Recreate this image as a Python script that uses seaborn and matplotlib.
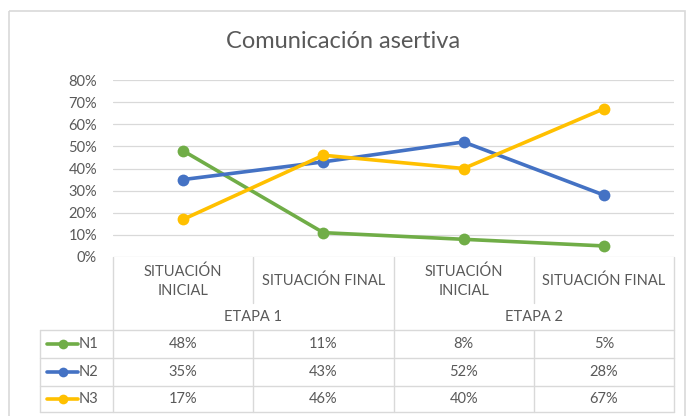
import numpy as np
import pandas as pd
import matplotlib

matplotlib.use("Agg")
import matplotlib.pyplot as plt
import seaborn as sns
from matplotlib.lines import Line2D
from matplotlib.patches import Rectangle

# ----------------------------------------------------------------------
# Data
# ----------------------------------------------------------------------
TITLE = "Comunicación asertiva"
categories = ["SITUACIÓN\nINICIAL", "SITUACIÓN FINAL", "SITUACIÓN\nINICIAL", "SITUACIÓN FINAL"]
stages = ["ETAPA 1", "ETAPA 2"]
series = ["N1", "N2", "N3"]
n1 = [48, 11, 8, 5]
n2 = [35, 43, 52, 28]
n3 = [17, 46, 40, 67]
y_ticks = [0, 10, 20, 30, 40, 50, 60, 70, 80]
colors = ["#70AD47", "#4472C4", "#FFC000"]

GRID = "#D9D9D9"
TXT = "#595959"
FS = 10.5

sns.set_style("white")
plt.rcParams["font.family"] = ["Lato", "DejaVu Sans"]

W, H = 686, 416
fig = plt.figure(figsize=(W / 100, H / 100), dpi=100)

# plot area in pixel coords
L, R, T, B = 113, 674, 80, 257
ax = fig.add_axes([L / W, 1 - B / H, (R - L) / W, (B - T) / H])

df = pd.DataFrame({
    "x": list(range(4)) * 3,
    "val": n1 + n2 + n3,
    "serie": [s for s in series for _ in range(4)],
})
sns.lineplot(data=df, x="x", y="val", hue="serie", hue_order=series,
             palette=colors, marker="o", markersize=8.5, markeredgewidth=0,
             linewidth=2.6, legend=False, ax=ax)

ax.set_xlim(-0.5, 3.5)
ax.set_ylim(0, 80)
ax.set_yticks(y_ticks)
ax.set_yticklabels([f"{t}%" for t in y_ticks], color=TXT, fontsize=FS)
ax.tick_params(axis="y", length=0, pad=11.5)
ax.set_xticks([])
ax.set_xlabel("")
ax.set_ylabel("")
ax.grid(axis="y", color=GRID, linewidth=0.9)
ax.set_axisbelow(True)
for sp in ax.spines.values():
    sp.set_visible(False)

# ----------------------------------------------------------------------
# Table below the plot, drawn in pixel coordinates
# ----------------------------------------------------------------------
tb = fig.add_axes([0, 0, 1, 1], zorder=-1)
tb.set_xlim(0, W)
tb.set_ylim(H, 0)
tb.axis("off")

# outer chart border
tb.add_patch(Rectangle((8.5, 10.5), 676, 420, fill=False, edgecolor=GRID, lw=1.2))

fig.text(0.5, 1 - 42 / H, TITLE, ha="center", va="center", fontsize=17, color=TXT)

col_edges = np.linspace(L, R, len(categories) + 1)
row_edges = [330, 358, 386, 412]
legend_left = 40
lc = dict(color=GRID, lw=1)

# vertical lines
for i, xe in enumerate(col_edges):
    if i in (1, 3):
        tb.plot([xe, xe], [B, 303], **lc)
        tb.plot([xe, xe], [row_edges[0], row_edges[-1]], **lc)
    else:
        tb.plot([xe, xe], [B, row_edges[-1]], **lc)
tb.plot([legend_left, legend_left], [row_edges[0], row_edges[-1]], **lc)
for ye in row_edges:
    tb.plot([legend_left, R], [ye, ye], **lc)

# category and stage labels
for i, cat in enumerate(categories):
    xc = (col_edges[i] + col_edges[i + 1]) / 2
    tb.text(xc, 281, cat, ha="center", va="center", fontsize=FS, color=TXT,
            linespacing=1.45)
for j, st in enumerate(stages):
    xc = (col_edges[2 * j] + col_edges[2 * j + 2]) / 2
    tb.text(xc, 317, st, ha="center", va="center", fontsize=FS, color=TXT)

# data rows with legend keys
for k, (name, vals, c) in enumerate(zip(series, [n1, n2, n3], colors)):
    yc = (row_edges[k] + row_edges[k + 1]) / 2
    tb.add_line(Line2D([47, 78], [yc, yc], color=c, lw=2.6))
    tb.plot([62.5], [yc], marker="o", markersize=7, color=c, markeredgewidth=0)
    tb.text(79, yc, name, ha="left", va="center", fontsize=FS, color=TXT)
    for i, v in enumerate(vals):
        xc = (col_edges[i] + col_edges[i + 1]) / 2
        tb.text(xc, yc, f"{v}%", ha="center", va="center", fontsize=FS, color=TXT)

fig.savefig("out.png", dpi=100)
